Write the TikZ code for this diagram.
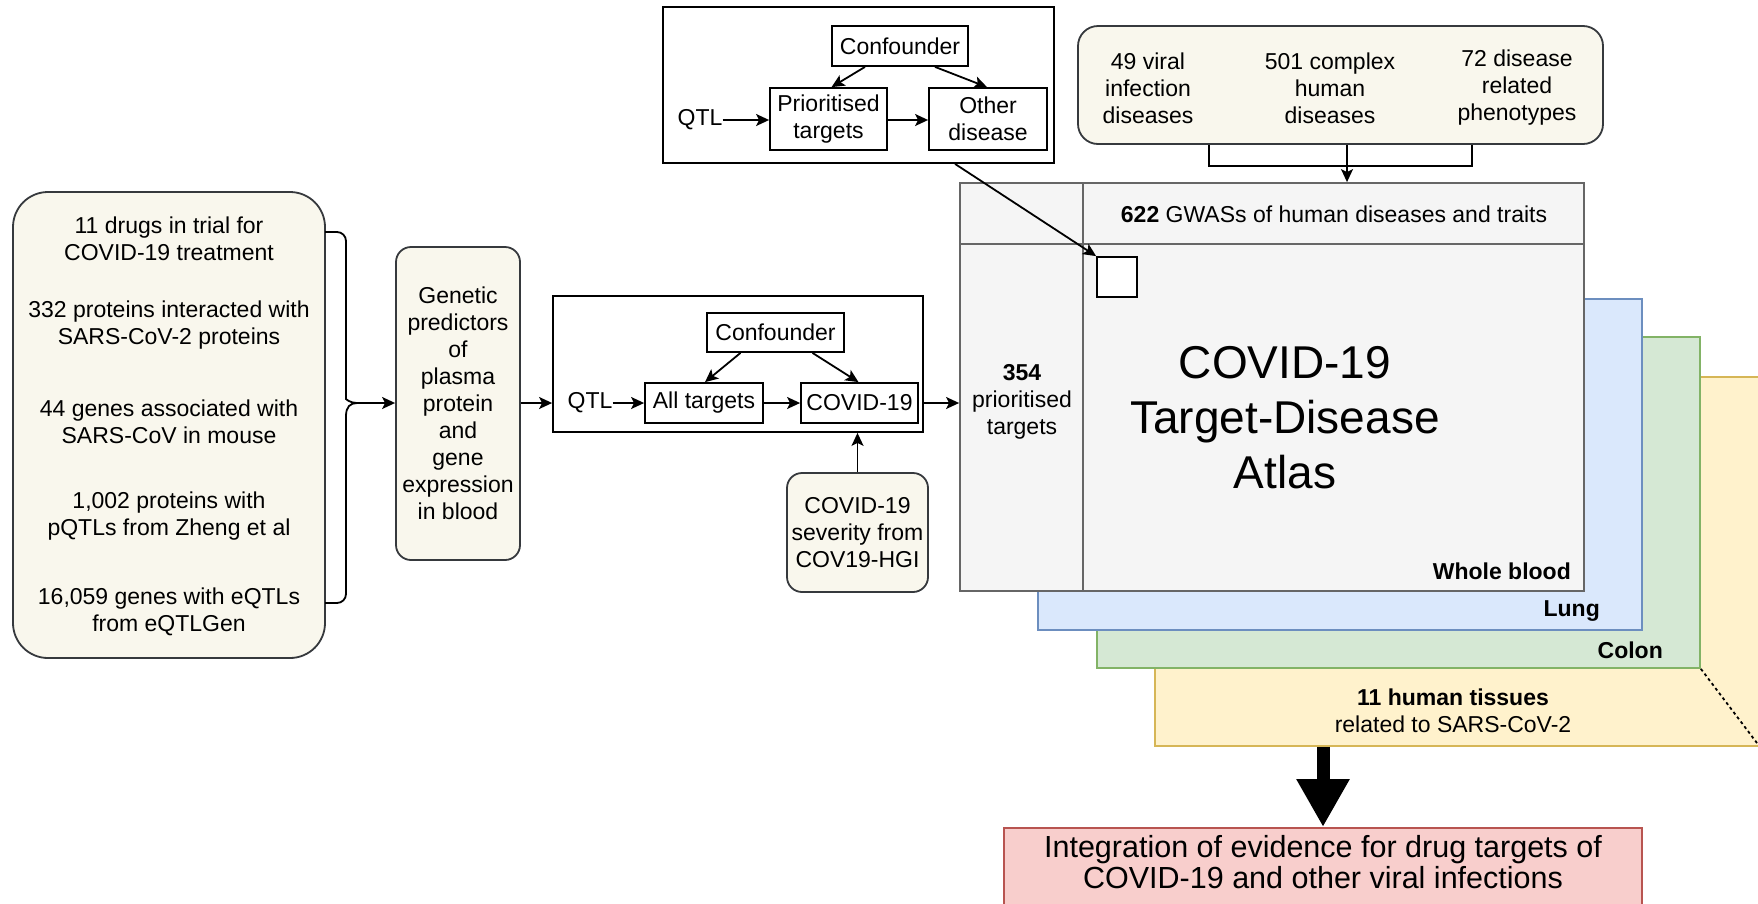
\documentclass[tikz,border=0pt]{standalone}
\usepackage{fontspec}
\setmainfont{Liberation Sans}
\usetikzlibrary{arrows.meta,calc}
\definecolor{creamF}{HTML}{F9F7ED}
\definecolor{creamD}{HTML}{36393D}
\definecolor{greyF}{HTML}{F5F5F5}
\definecolor{greyD}{HTML}{666666}
\definecolor{blueF}{HTML}{DAE8FC}
\definecolor{blueD}{HTML}{6C8EBF}
\definecolor{greenF}{HTML}{D5E8D4}
\definecolor{greenD}{HTML}{82B366}
\definecolor{yelF}{HTML}{FFF2CC}
\definecolor{yelD}{HTML}{D6B656}
\definecolor{redF}{HTML}{F8CECC}
\definecolor{redD}{HTML}{B85450}
\begin{document}
\begin{tikzpicture}[x=1pt,y=-1pt,
  every node/.style={font=\fontsize{23}{27}\selectfont, inner sep=0pt, align=center},
  blk/.style={draw=black, line width=1.8pt, fill=white},
  crm/.style={draw=creamD, fill=creamF, line width=1.8pt, rounded corners=15pt},
  layer/.style={line width=1.8pt},
  bold/.style={font=\fontsize{23}{27}\selectfont\bfseries},
  arr/.style={line width=1.8pt, -{Stealth[length=13pt,width=12pt,inset=3pt]}}]
\fill[white] (0,0) rectangle (1758,903);
\useasboundingbox (0,0) rectangle (1758,903);

% ---- left sources
\node[crm, rounded corners=35pt, minimum width=312pt, minimum height=466pt] (src) at (169,425) {};
\node (s1) at (169,238.5) {11 drugs in trial for\\COVID-19 treatment};
\node (s2) at (169,325.5) {332 proteins interacted with\\SARS-CoV-2 proteins};
\node (s3) at (169,422) {44 genes associated with\\SARS-CoV in mouse};
\node (s4) at (169,516.5) {1,002 proteins with\\pQTLs from Zheng et al};
\node (s5) at (169,611.5) {16,059 genes with eQTLs\\from eQTLGen};

% brace
\coordinate (bt) at (357,403);
\draw[line width=1.8pt, rounded corners=9pt] (325,232) -- (346,232) -- (346,390)
  [sharp corners] .. controls (346,399) and (350,403) .. (bt)
  .. controls (350,403) and (346,407) .. (346,416)
  [rounded corners=9pt] -- (346,603) -- (325,603);

% ---- genetic predictors
\node[crm, minimum width=124pt, minimum height=313pt] (gen) at (458,403.5)
  {Genetic\\predictors\\of\\plasma\\protein\\and\\gene\\expression\\in blood};
\draw[arr] (bt) -- (bt -| gen.west);

% ---- middle MR box
\node[draw=black, line width=1.8pt, minimum width=370pt, minimum height=136pt] (mid) at (738,364) {};
\node[blk, minimum width=137pt, minimum height=39pt] (conf1) at (775.5,332.5) {Confounder};
\node[blk, minimum width=118pt, minimum height=40pt] (all) at (704,403) {All targets};
\node[blk, minimum width=117pt, minimum height=40pt] (cov) at (859.5,403) {COVID-19};
\node (qtl1) at (590,403) {QTL};
\draw[arr] (gen.east |- all) -- (all -| mid.west);
\draw[arr] (qtl1.east) -- (all.west);
\draw[arr] (all.east) -- (cov.west);
\draw[arr] ($(conf1.south)+(-35,0)$) -- ($(all.north)+(1,0)$);
\draw[arr] ($(conf1.south)+(37,0)$) -- ($(cov.north)+(-1,0)$);

% severity
\node[crm, minimum width=141pt, minimum height=119pt] (sev) at (857.5,532.5)
  {COVID-19\\severity from\\COV19-HGI};
\draw[arr] (sev.north) -- (sev.north |- mid.south);

% ---- top MR box
\node[draw=black, line width=1.8pt, minimum width=391pt, minimum height=156pt] (topb) at (858.5,85) {};
\node[blk, minimum width=136pt, minimum height=40pt] (conf2) at (900,46) {Confounder};
\node[blk, minimum width=117pt, minimum height=62pt] (prio) at (828.5,119) {Prioritised\\targets};
\node[blk, minimum width=118pt, minimum height=62pt] (oth) at (988,119) {Other\\disease};
\node (qtl2) at (700,120) {QTL};
\draw[arr] (qtl2.east) -- (qtl2.east -| prio.west);
\draw[arr] (prio.east |- qtl2) -- (oth.west |- qtl2);
\draw[arr] ($(conf2.south)+(-35,0)$) -- ($(prio.north)+(3,0)$);
\draw[arr] ($(conf2.south)+(35,0)$) -- ($(oth.north)+(-1,0)$);

% ---- stacked tissue layers
\node[draw=yelD, fill=yelF, layer, minimum width=604pt, minimum height=369pt] (yel) at (1457,561.5) {};
\node[draw=greenD, fill=greenF, layer, minimum width=603pt, minimum height=331pt] (grn) at (1398.5,502.5) {};
\node[draw=blueD, fill=blueF, layer, minimum width=604pt, minimum height=331pt] (blu) at (1340,464.5) {};
\node[draw=greyD, fill=greyF, layer, minimum width=624pt, minimum height=408pt] (wb) at (1272,387) {};
\draw[greyD, line width=1.8pt] ($(wb.north west)+(124,0)$) -- ($(wb.south west)+(124,0)$);
\draw[greyD, line width=1.8pt] ($(wb.north west)+(0,62)$) -- ($(wb.north east)+(0,62)$);
\draw[dashed, line width=1.8pt] (grn.south east) -- (yel.south east);

\node[blk, minimum width=40pt, minimum height=40pt] (sq) at (1117,277) {};
\node (gwas) at (1334,214) {\textbf{622} GWASs of human diseases and traits};
\node (pt) at (1022,402) {\textbf{354}\\prioritised\\targets};
\node[font=\fontsize{46}{55}\selectfont] (title) at (1285,418) {COVID-19\\Target-Disease\\Atlas};
\node[bold, anchor=east] (wbl) at (1571,571) {Whole blood};
\node[bold, anchor=east] (lung) at (1600,611) {Lung};
\node[bold, anchor=east] (colon) at (1663,650) {Colon};
\node (tis) at (1453,711) {\textbf{11 human tissues}\\related to SARS-CoV-2};

\draw[arr] (cov.east -| mid.east) -- (cov.east -| wb.west);
\draw[arr] ($(topb.south)+(96.5,0)$) -- (sq.north west);

% ---- top-right GWAS sources
\node[crm, rounded corners=20pt, minimum width=525pt, minimum height=118pt] (gw) at (1340.5,85) {};
\node (g1) at (1148,88) {49 viral\\infection\\diseases};
\node (g2) at (1330,88) {501 complex\\human\\diseases};
\node (g3) at (1517,88) {72 disease\\related\\phenotypes};
\draw[line width=1.8pt] ($(gw.south)+(-131.5,0)$) -- ($(gw.south)+(-131.5,21)$) -- ($(gw.south)+(131.5,21)$) -- ($(gw.south)+(131.5,0)$);
\draw[arr] ($(gw.south)+(6.5,0)$) -- ($(wb.north)+(75,0)$);

% ---- integration
\node[draw=redD, fill=redF, layer, minimum width=638pt, minimum height=100pt, anchor=north] (red) at (1323,827) {};
\node[font=\fontsize{30.5}{31.5}\selectfont] (redt) at (1323,862) {Integration of evidence for drug targets of\\COVID-19 and other viral infections};
\draw[line width=13pt, -{Triangle[length=48pt,width=50pt]}] (red.north |- yel.south) -- (red.north);
\end{tikzpicture}
\end{document}
